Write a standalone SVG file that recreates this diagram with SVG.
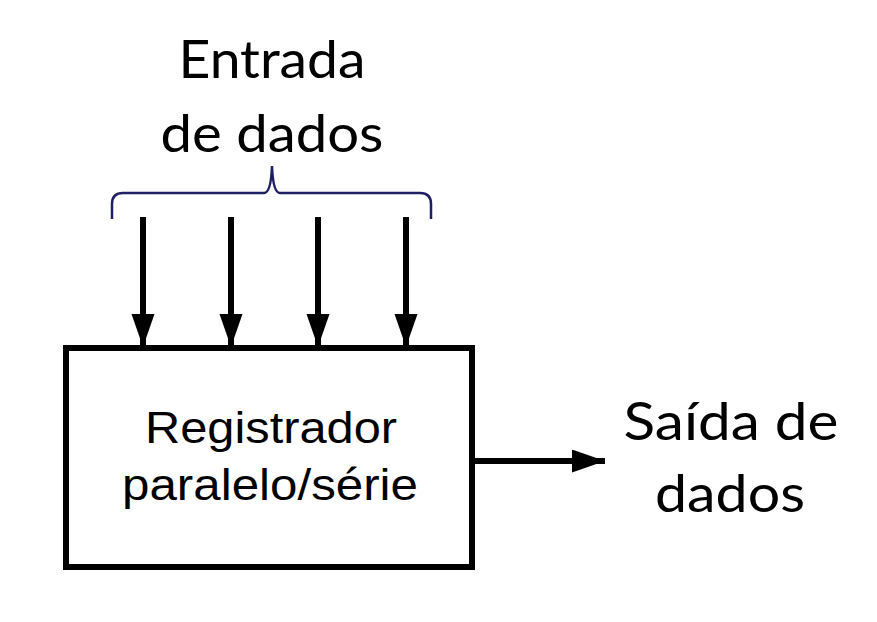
<svg xmlns="http://www.w3.org/2000/svg" width="877" height="622" viewBox="0 0 877 622">
<style>
.lbl{font-family:Lato,"Open Sans","Noto Sans",sans-serif;font-size:53px;fill:#000;text-anchor:middle}
.box{font-family:"Liberation Sans",Arial,sans-serif;font-size:44px;fill:#000;text-anchor:middle}
.wire{stroke:#000;stroke-width:6;fill:none}
</style>
<defs>
<marker id="ah" markerUnits="userSpaceOnUse" markerWidth="34" markerHeight="24" refX="33" refY="11.5" orient="auto">
<path d="M0,0 L33,11.5 L0,23 Z" fill="#000"/>
</marker>
</defs>
<rect width="877" height="622" fill="#fff"/>
<g id="input-label">
<text class="lbl" x="272" y="78" textLength="187" lengthAdjust="spacingAndGlyphs">Entrada</text>
<text class="lbl" x="272" y="152" textLength="223" lengthAdjust="spacingAndGlyphs">de dados</text>
<path d="M112,219 L112,204 Q112,193 123,193 L264,193 Q271,193 272,166 Q273,193 280,193 L420,193 Q431,193 431,204 L431,219" fill="none" stroke="#1f1f66" stroke-width="2.5"/>
</g>
<g id="register">
<rect x="66" y="348" width="406" height="219" fill="#fff" stroke="#000" stroke-width="6"/>
<text class="box" x="271" y="443" textLength="252" lengthAdjust="spacingAndGlyphs">Registrador</text>
<text class="box" x="270" y="500" textLength="296" lengthAdjust="spacingAndGlyphs">paralelo/série</text>
</g>
<g id="output-label">
<text class="lbl" x="731" y="440" textLength="215" lengthAdjust="spacingAndGlyphs">Saída de</text>
<text class="lbl" x="730" y="512" textLength="150" lengthAdjust="spacingAndGlyphs">dados</text>
</g>
<g id="connectors">
<line class="wire" x1="143" y1="217" x2="143" y2="347" marker-end="url(#ah)"/>
<line class="wire" x1="231" y1="217" x2="231" y2="347" marker-end="url(#ah)"/>
<line class="wire" x1="318" y1="217" x2="318" y2="347" marker-end="url(#ah)"/>
<line class="wire" x1="406" y1="217" x2="406" y2="347" marker-end="url(#ah)"/>
<line class="wire" x1="475" y1="461" x2="605" y2="461" marker-end="url(#ah)"/>
</g>
</svg>
